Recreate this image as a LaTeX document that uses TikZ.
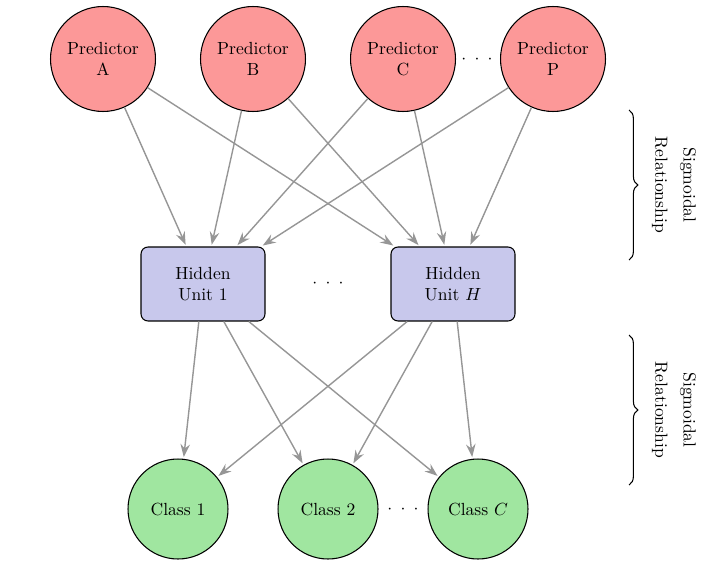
\documentclass[tikz,border=0pt]{standalone}
\usetikzlibrary{arrows.meta,decorations.pathreplacing}
\definecolor{predfill}{RGB}{252,152,152}
\definecolor{hidfill}{RGB}{200,200,236}
\definecolor{clsfill}{RGB}{160,230,160}
\definecolor{edgecol}{RGB}{150,150,150}
\begin{document}
\begin{tikzpicture}[x=0.02cm,y=-0.02cm,
  pred/.style={circle,draw=black,line width=0.6pt,fill=predfill,minimum size=2.1cm,align=center,inner sep=1pt},
  hid/.style={rectangle,rounded corners=4pt,draw=black,line width=0.6pt,fill=hidfill,minimum width=2.48cm,minimum height=1.48cm,align=center},
  cls/.style={circle,draw=black,line width=0.6pt,fill=clsfill,minimum size=2cm,inner sep=1pt},
  edge/.style={draw=edgecol,line width=0.8pt,-{Stealth[length=2.6mm,width=1.9mm,inset=0.9mm]},shorten >=1pt},
  dotsnode/.style={inner sep=0pt},
  bracestyle/.style={decorate,decoration={brace,amplitude=5pt},line width=0.6pt},
  sidelabel/.style={rotate=-90,align=center,inner sep=0pt}]
\useasboundingbox (0,0) rectangle (712,584);
\node[pred] (A) at (103,59) {Predictor\\A};
\node[pred] (B) at (253,59) {Predictor\\B};
\node[pred] (C) at (403,59) {Predictor\\C};
\node[pred] (P) at (553,59) {Predictor\\P};
\node[dotsnode] (d1) at (477,60) {$\cdotp$\hspace{4.7pt}$\cdotp$\hspace{4.7pt}$\cdotp$};
\node[hid] (H1) at (203,284) {Hidden\\Unit 1};
\node[hid] (HH) at (453,284) {Hidden\\Unit $H$};
\node[dotsnode] (d2) at (328,284) {$\cdotp$\hspace{4.7pt}$\cdotp$\hspace{4.7pt}$\cdotp$};
\node[cls] (K1) at (178,509) {Class 1};
\node[cls] (K2) at (328,509) {Class 2};
\node[cls] (KC) at (478,509) {Class $C$};
\node[dotsnode] (d3) at (403,510) {$\cdotp$\hspace{4.7pt}$\cdotp$\hspace{4.7pt}$\cdotp$};
\foreach \s in {A,B,C,P}{
  \draw[edge] (\s) -- (H1);
  \draw[edge] (\s) -- (HH);
}
\foreach \t in {K1,K2,KC}{
  \draw[edge] (H1) -- (\t);
  \draw[edge] (HH) -- (\t);
}
\coordinate (b1s) at (629,110);
\coordinate (b1e) at (629,260);
\coordinate (b2s) at (629,335);
\coordinate (b2e) at (629,485);
\draw[bracestyle] (b1s) -- (b1e);
\draw[bracestyle] (b2s) -- (b2e);
\node[sidelabel] (L1) at (674,185) {Sigmoidal\\[4pt]Relationship};
\node[sidelabel] (L2) at (674,410) {Sigmoidal\\[4pt]Relationship};
\end{tikzpicture}
\end{document}
